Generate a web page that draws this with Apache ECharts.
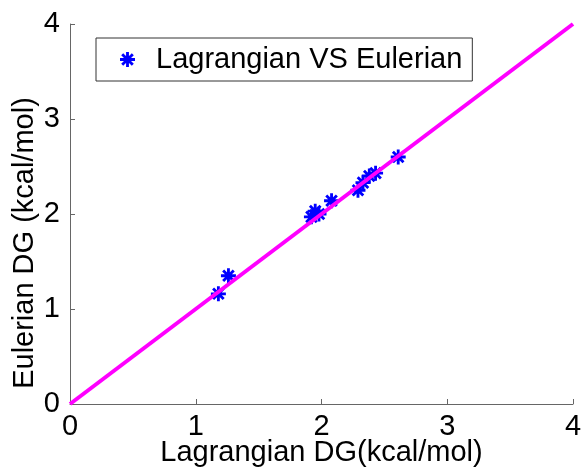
<!DOCTYPE html>
<html>
<head>
<meta charset="utf-8">
<script src="https://cdn.jsdelivr.net/npm/echarts@6/dist/echarts.min.js"></script>
<style>
html,body{margin:0;padding:0;background:#fff;}
#chart{width:582px;height:469px;}
</style>
</head>
<body>
<div id="chart"></div>
<script>
// Data
var lagrangian = [1.18, 1.26, 1.92, 1.95, 1.98, 2.08, 2.29, 2.33, 2.38, 2.43, 2.61];
var eulerian   = [1.16, 1.35, 1.97, 2.03, 2.00, 2.14, 2.25, 2.33, 2.40, 2.43, 2.60];
var refLineX = [0, 4];
var refLineY = [0, 4];
var seriesName = 'Lagrangian VS Eulerian';
var xTitle = 'Lagrangian DG(kcal/mol)';
var yTitle = 'Eulerian DG (kcal/mol)';

var scatterData = lagrangian.map(function (x, i) { return [x, eulerian[i]]; });
var lineData = refLineX.map(function (x, i) { return [x, refLineY[i]]; });

var asterisk = 'path://M-10,-1.9L10,-1.9L10,1.9L-10,1.9Z' +
  'M1.9,-10L1.9,10L-1.9,10L-1.9,-10Z' +
  'M-5.73,-8.41L8.41,5.73L5.73,8.41L-8.41,-5.73Z' +
  'M-8.41,5.73L5.73,-8.41L8.41,-5.73L-5.73,8.41Z';

var font = 'Liberation Sans, Arial, sans-serif';
var chart = echarts.init(document.getElementById('chart'), null, {renderer: 'canvas'});
chart.setOption({
  backgroundColor: '#fff',
  animation: false,
  grid: {left: 70, top: 24, width: 503, height: 380, containLabel: false, outerBoundsMode: 'none'},
  legend: {
    data: [seriesName],
    left: 96, top: 38,
    orient: 'vertical',
    borderColor: '#333', borderWidth: 1, borderRadius: 0,
    padding: [7, 10, 7, 24],
    itemWidth: 15, itemHeight: 15,
    icon: asterisk,
    textStyle: {fontFamily: font, fontSize: 29, color: '#000', padding: [0, 0, 0, 16]}
  },
  xAxis: {
    type: 'value', min: 0, max: 4, interval: 1,
    name: xTitle, nameLocation: 'middle', nameGap: 34, nameMoveOverlap: false,
    nameTextStyle: {fontFamily: font, fontSize: 29, color: '#000'},
    axisLine: {lineStyle: {color: '#666', width: 1}},
    axisTick: {inside: true, length: 5, lineStyle: {color: '#666'}},
    axisLabel: {fontFamily: font, fontSize: 29, color: '#000', margin: 8, showMinLabel: true, showMaxLabel: true},
    splitLine: {show: false}
  },
  yAxis: {
    type: 'value', min: 0, max: 4, interval: 1,
    name: yTitle, nameLocation: 'middle', nameGap: 31, nameMoveOverlap: false,
    nameTextStyle: {fontFamily: font, fontSize: 29, color: '#000', padding: [0, 58, 0, 0]},
    axisLine: {lineStyle: {color: '#666', width: 1}},
    axisTick: {inside: true, length: 5, lineStyle: {color: '#666'}},
    axisLabel: {fontFamily: font, fontSize: 29, color: '#000', margin: 10, showMinLabel: true, showMaxLabel: true},
    splitLine: {show: false}
  },
  series: [
    {
      name: seriesName, type: 'scatter', data: scatterData,
      symbol: asterisk, symbolSize: 15,
      itemStyle: {color: '#0000ff', opacity: 1},
      z: 2
    },
    {
      name: 'ref', type: 'line', data: lineData,
      symbol: 'none', lineStyle: {color: '#ff00ff', width: 4},
      z: 3, silent: true
    }
  ]
});
</script>
</body>
</html>
